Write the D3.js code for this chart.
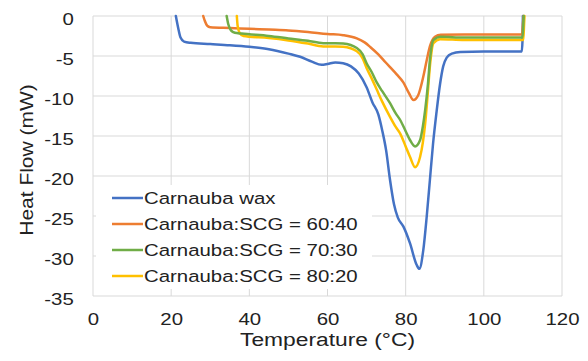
<!DOCTYPE html>
<html>
    <head>
        <meta charset="UTF-8"/>
        <style>
            body { margin: 0; background: #fff; }
            text { font-family: "Liberation Sans", Arial, sans-serif; fill: #222; }
        </style>
    </head>
    <body>
        <svg width="588" height="361"></svg>
        <script src="https://d3js.org/d3.v7.min.js" type="text/javascript"></script>
        <script>
            // DSC curves: [temperature, heat flow]
            let waxData = [[21.2,0],[21.8,-1.5],[22.4,-2.7],[23.3,-3.2],[25,-3.35],[30,-3.5],[35,-3.65],[40,-3.85],[45,-4.15],[50,-4.7],[53,-5.1],[56,-5.7],[58.5,-6.1],[60,-6.0],[62,-5.8],[64,-5.9],[66,-6.3],[68,-7.2],[70,-8.9],[71.5,-10.8],[73,-12.3],[74,-14.3],[75,-16.8],[76,-20.5],[77,-23.5],[78,-25.2],[79.4,-26.3],[81.1,-28.4],[82.8,-31.1],[83.5,-31.6],[84.5,-29.3],[85.4,-25],[86.2,-20.5],[87,-16],[87.9,-12],[88.8,-8.5],[89.6,-6.3],[90.5,-5.2],[91.8,-4.7],[94,-4.5],[100,-4.45],[105,-4.45],[109.7,-4.45],[109.9,-3],[110,0]];
            let mix6040Data = [[28.2,0],[28.6,-0.6],[29.2,-1.2],[30,-1.4],[35,-1.5],[40,-1.6],[45,-1.7],[50,-1.8],[55,-2.0],[60,-2.25],[64,-2.4],[67.5,-2.8],[69.5,-3.3],[71,-3.9],[73,-4.8],[74.5,-5.6],[76,-6.4],[77.7,-7.3],[79.4,-8.3],[80.8,-9.6],[82,-10.5],[83.2,-9.9],[84.5,-7.6],[85.4,-5.5],[86.2,-3.8],[87.5,-2.6],[89,-2.35],[95,-2.3],[105,-2.3],[109.8,-2.3],[110,-1],[110.2,0]];
            let mix7030Data = [[34.2,0],[34.6,-1],[35.3,-1.8],[36.3,-2.1],[38,-2.2],[45,-2.5],[50,-2.8],[55,-3.1],[58.9,-3.4],[62,-3.4],[64,-3.45],[67.5,-4],[69,-4.8],[70,-5.9],[71.3,-7],[72.6,-8.3],[74,-9.4],[76,-10.9],[77.5,-12.2],[78.6,-13],[80,-14.4],[81.1,-15.5],[82.4,-16.3],[83.7,-15.5],[84.4,-13.8],[85,-11.7],[85.7,-8.5],[86.2,-5.5],[87.1,-3],[88.8,-2.6],[95,-2.7],[105,-2.7],[109.9,-2.7],[110.1,-1],[110.2,0]];
            let mix8020Data = [[36.8,0],[37,-1.2],[37.5,-2.1],[38.5,-2.5],[45,-2.75],[50,-3.05],[55,-3.45],[58.9,-3.8],[62,-3.8],[64,-3.85],[67.5,-4.4],[69,-5.3],[70,-6.5],[71.3,-7.8],[72.6,-9.2],[74,-10.7],[76,-12.6],[77.5,-13.9],[78.6,-14.7],[80,-16.3],[81.1,-17.6],[82.4,-18.9],[83.7,-17.6],[84.4,-15.8],[85,-13.4],[85.6,-10],[86.2,-6.3],[87.1,-3.4],[88.8,-2.9],[95,-3],[105,-3],[110.1,-3],[110.3,-1],[110.4,0]];

            let seriesNames = ["Carnauba wax", "Carnauba:SCG = 60:40", "Carnauba:SCG = 70:30", "Carnauba:SCG = 80:20"];
            let seriesColors = ["#4472c4", "#ed7d31", "#70ad47", "#ffc000"];
            let xTicks = [0, 20, 40, 60, 80, 100, 120];
            let yTicks = [0, -5, -10, -15, -20, -25, -30, -35];

            let series = [waxData, mix6040Data, mix7030Data, mix8020Data].map(function(d, i) {
                return {name: seriesNames[i], color: seriesColors[i], values: d};
            });

            let svg = d3.select("svg");
            let plotLeft = 93, plotRight = 562, plotTop = 16, plotBottom = 296;
            let stretch = 1.2; // the picture's text looks horizontally stretched

            let x = d3.scaleLinear().domain([0, 120]).range([plotLeft, plotRight]);
            let y = d3.scaleLinear().domain([0, -35]).range([plotTop, plotBottom]);

            // grid
            svg.append("g").selectAll("line").data(xTicks).enter().append("line")
                .attr("x1", d => x(d)).attr("x2", d => x(d))
                .attr("y1", plotTop).attr("y2", plotBottom)
                .attr("stroke", "#d9d9d9").attr("stroke-width", 1);
            svg.append("g").selectAll("line").data(yTicks).enter().append("line")
                .attr("x1", plotLeft).attr("x2", plotRight)
                .attr("y1", d => y(d)).attr("y2", d => y(d))
                .attr("stroke", "#d9d9d9").attr("stroke-width", 1);

            // axes (labels only), plain hyphen for negatives
            let plain = d => String(d);
            let xAxis = svg.append("g")
                .attr("transform", "translate(0," + plotBottom + ")")
                .call(d3.axisBottom(x).tickValues(xTicks).tickFormat(plain).tickSize(0).tickPadding(0));
            xAxis.select(".domain").remove();
            xAxis.selectAll("text")
                .attr("y", 29).attr("dy", 0)
                .attr("transform", "scale(" + stretch + ",1)")
                .style("font-size", "17px").style("fill", "#222");

            let yAxis = svg.append("g")
                .attr("transform", "translate(" + plotLeft + ",0)")
                .call(d3.axisLeft(y).tickValues(yTicks).tickFormat(plain).tickSize(0).tickPadding(0));
            yAxis.select(".domain").remove();
            yAxis.selectAll("text")
                .attr("x", -16).attr("dy", "0.38em")
                .attr("transform", "translate(0,2) scale(" + stretch + ",1)")
                .style("font-size", "17px").style("fill", "#222");

            // curves
            let line = d3.line()
                .x(d => x(d[0]))
                .y(d => y(d[1]))
                .curve(d3.curveMonotoneX);

            let drawOrder = [0, 1, 3, 2];
            svg.append("g").selectAll("path").data(drawOrder.map(i => series[i])).enter().append("path")
                .attr("d", d => line(d.values))
                .attr("fill", "none")
                .attr("stroke", d => d.color)
                .attr("stroke-width", 2.5)
                .attr("stroke-linejoin", "round")
                .attr("stroke-linecap", "round");

            // legend
            let legend = svg.append("g");
            legend.append("rect")
                .attr("x", 96).attr("y", 185).attr("width", 276).attr("height", 104)
                .attr("fill", "#fff");
            let rows = legend.selectAll("g.row").data(series).enter().append("g")
                .attr("class", "row")
                .attr("transform", (d, i) => "translate(112," + (198 + i * 26) + ")");
            rows.append("line")
                .attr("x1", 0).attr("x2", 31).attr("y1", 0).attr("y2", 0)
                .attr("stroke", d => d.color).attr("stroke-width", 2.5);
            rows.append("text")
                .attr("x", 32 / stretch).attr("y", 0).attr("dy", "0.36em")
                .attr("transform", "scale(" + stretch + ",1)")
                .style("font-size", "17px")
                .text(d => d.name);

            // axis titles
            svg.append("g")
                .attr("transform", "translate(" + ((plotLeft + plotRight) / 2) + ",346) scale(" + stretch + ",1)")
                .append("text")
                .attr("text-anchor", "middle")
                .style("font-size", "19px")
                .text("Temperature (°C)");
            svg.append("g")
                .attr("transform", "translate(33,160) rotate(-90) scale(" + stretch + ",1)")
                .append("text")
                .attr("text-anchor", "middle")
                .style("font-size", "17.5px")
                .text("Heat Flow (mW)");
        </script>
    </body>
</html>
